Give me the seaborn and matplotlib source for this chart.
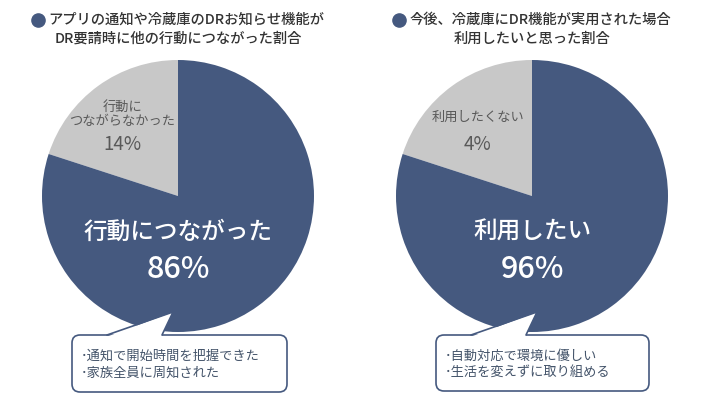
import seaborn as sns
import matplotlib.pyplot as plt
from matplotlib.patches import FancyBboxPatch, Polygon

# データ
title_line1 = ['アプリの通知や冷蔵庫のDRお知らせ機能が', '今後、冷蔵庫にDR機能が実用された場合']
title_line2 = ['DR要請時に他の行動につながった割合', '利用したいと思った割合']
gray_labels = ['行動に\nつながらなかった', '利用したくない']
gray_pcts = ['14%', '4%']
main_labels = ['行動につながった', '利用したい']
main_pcts = ['86%', '96%']
# 図で描かれている扇形の比率（灰色, 紺色）
drawn_shares = [[20, 80], [20, 80]]
notes = ['･通知で開始時間を把握できた\n･家族全員に周知された',
         '･自動対応で環境に優しい\n･生活を変えずに取り組める']

sns.set_theme(style='white')
plt.rcParams['font.family'] = ['Noto Sans CJK JP', 'DejaVu Sans']

navy = '#45597F'
gray = '#C8C8C8'
colors = [gray, navy]

W, H = 708, 408
fig = plt.figure(figsize=(W / 100, H / 100), dpi=100)

centers = [178, 532]
cy, r = 196, 136
gray_pos = [(-0.41, 0.60), (-0.40, 0.58)]

for i, cx in enumerate(centers):
    ax = fig.add_axes([(cx - r) / W, (H - cy - r) / H, 2 * r / W, 2 * r / H])
    ax.pie(drawn_shares[i], colors=colors, startangle=90, counterclock=True,
           wedgeprops=dict(linewidth=0))
    ax.set_xlim(-1, 1)
    ax.set_ylim(-1, 1)
    ax.set_aspect('equal')
    ax.axis('off')
    gx, gy = gray_pos[i]
    ax.text(gx, gy, gray_labels[i], ha='center', va='center', fontsize=9.5,
            color='#595959', linespacing=1.2)
    ax.text(gx, 0.375, gray_pcts[i], ha='center', va='center', fontsize=13.5,
            color='#595959')
    ax.text(0, -0.265, main_labels[i], ha='center', va='center', fontsize=17,
            color='white', weight='medium')
    ax.text(0, -0.54, main_pcts[i], ha='center', va='center', fontsize=22,
            color='white', weight='medium')

# 吹き出しとタイトル用の重ね合わせ軸（ピクセル座標）
ov = fig.add_axes([0, 0, 1, 1], zorder=5)
ov.set_xlim(0, W)
ov.set_ylim(H, 0)
ov.axis('off')
ov.patch.set_alpha(0)

renderer = fig.canvas.get_renderer()
for i, cx in enumerate(centers):
    t1 = ov.text(cx + 8, 20, title_line1[i], ha='center', va='center',
                 fontsize=10.3, color='#333333', weight='medium')
    ov.text(cx, 38.5, title_line2[i], ha='center', va='center',
            fontsize=10.3, color='#333333', weight='medium')
    bb = t1.get_window_extent(renderer).transformed(ov.transData.inverted())
    ov.plot([min(bb.x0, bb.x1) - 10], [20], marker='o', markersize=9.5,
            color=navy, linestyle='none')

boxes = [(72, 335, 215, 57), (436, 335, 213, 56)]
tails = [((107, 335), (173, 312), (162, 335)),
         ((471, 335), (537, 312), (526, 335))]
for (bx, by, bw, bh), (p1, tip, p2), note in zip(boxes, tails, notes):
    box = FancyBboxPatch((bx, by), bw, bh, boxstyle='round,pad=0,rounding_size=8',
                         facecolor='white', edgecolor=navy, linewidth=1.2)
    ov.add_patch(box)
    ov.add_patch(Polygon([(p1[0] + 0.5, p1[1] + 1.5), tip, (p2[0] - 0.5, p2[1] + 1.5)],
                         closed=True, facecolor='white', edgecolor='none'))
    ov.plot([p1[0], tip[0], p2[0]], [p1[1], tip[1], p2[1]], color=navy,
            linewidth=1.2, solid_joinstyle='miter')
    ov.text(bx + 9, by + bh / 2 + 1, note, ha='left', va='center', fontsize=9.5,
            color='#44546A', linespacing=1.35)

fig.savefig('out.png', dpi=100)
